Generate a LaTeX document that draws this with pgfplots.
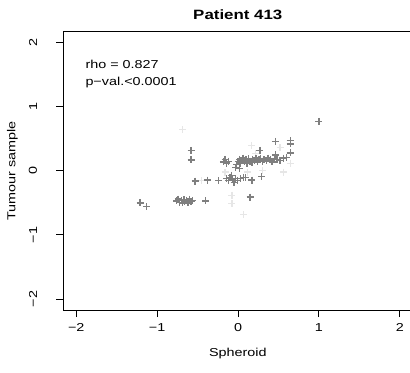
\documentclass[border=0pt]{standalone}
\usepackage{fontspec}
\setmainfont{Liberation Sans}
\usepackage{graphicx}
\usepackage{pgfplots}
\pgfplotsset{compat=1.18}
\newcommand\st[1]{\scalebox{1.25}[1]{#1}}
\definecolor{dk}{HTML}{7F7F7F}
\definecolor{lt}{HTML}{E6E6E6}
\begin{document}
\begin{tikzpicture}
\useasboundingbox (-63.3bp,-63bp) rectangle (346.7bp,310bp);
\begin{axis}[
  at={(0,0)}, anchor=south west,
  width=349.5bp, height=278.3bp, scale only axis,
  xmin=-2.16, xmax=2.16, ymin=-2.17, ymax=2.17,
  xtick={-2,-1,0,1,2}, ytick={-2,-1,0,1,2},
  xticklabels={\st{−2},\st{−1},\st{0},\st{1},\st{2}},
  yticklabels={\st{−2},\st{−1},\st{0},\st{1},\st{2}},
  xtick pos=bottom, ytick pos=left, xtick align=outside, ytick align=outside,
  major tick length=7bp,
  axis line style={line width=0.9bp},
  every tick/.style={draw=black, line width=1bp},
  xticklabel style={font=\fontsize{11.5bp}{13bp}\selectfont, inner sep=0pt, anchor=north, yshift=-6.5bp},
  yticklabel style={font=\fontsize{11.5bp}{13bp}\selectfont, inner sep=0pt, xshift=-19bp, rotate=90, anchor=south},
  clip=false,
]
\addplot[only marks, mark=+, mark size=3.5bp, color=lt, line width=1.3bp] coordinates {
(-0.685,0.64) (-0.075,-0.38) (-0.075,-0.51) (0.07,-0.68) (0.56,-0.02) (0.645,0.12)
(0.17,0.39) (0.52,0.36) (-0.16,-0.02) (0.30,0.00) (-0.45,-0.15) (0.22,0.27) (0.12,-0.02)
};
\addplot[only marks, mark=+, mark size=3.5bp, color=dk, line width=1.4bp] coordinates {
(-1.21,-0.50) (-1.13,-0.56)
(-0.76,-0.47) (-0.74,-0.44) (-0.72,-0.49) (-0.70,-0.46) (-0.69,-0.50) (-0.67,-0.45)
(-0.66,-0.48) (-0.64,-0.46) (-0.62,-0.50) (-0.60,-0.44) (-0.58,-0.48) (-0.56,-0.46)
(-0.40,-0.47)
(-0.58,0.32) (-0.58,0.17)
(-0.53,-0.16) (-0.38,-0.145) (-0.24,-0.155)
(-0.14,-0.12) (-0.12,-0.15) (-0.10,-0.10) (-0.08,-0.07) (-0.07,-0.13) (-0.05,-0.18)
(-0.03,-0.12) (-0.01,-0.15) (0.03,-0.12) (0.07,-0.10) (0.09,-0.10) (0.17,-0.145) (0.29,-0.09)
(0.15,-0.41)
(-0.18,0.14) (-0.16,0.18) (-0.14,0.12) (-0.12,0.15)
(-0.03,0.05) (0.02,0.04)
(-0.02,0.10) (0.00,0.15) (0.02,0.18) (0.03,0.12) (0.05,0.16) (0.06,0.20) (0.08,0.14)
(0.10,0.17) (0.11,0.12) (0.13,0.19) (0.15,0.15) (0.17,0.13) (0.18,0.18) (0.20,0.16)
(0.22,0.20) (0.24,0.14) (0.26,0.17) (0.28,0.19) (0.30,0.15) (0.32,0.18) (0.35,0.16)
(0.37,0.20) (0.40,0.17) (0.42,0.14) (0.45,0.19) (0.48,0.18) (0.52,0.16) (0.56,0.20) (0.60,0.21)
(0.27,0.32) (0.46,0.46) (0.46,0.25) (0.645,0.47) (0.645,0.42) (0.645,0.28) (1.0,0.77)
};
\pgfplotsinvokeforeach{-2,-1,0,1,2}{
  \draw[line width=1bp, black] (axis cs:#1,-2.17) -- ([yshift=-7bp]axis cs:#1,-2.17);
  \draw[line width=1bp, black] (axis cs:-2.16,#1) -- ([xshift=-7bp]axis cs:-2.16,#1);
}
\end{axis}
\node[anchor=base west, inner sep=0pt, font=\fontsize{11.5bp}{13bp}\selectfont] at (22bp,241bp) {\st{rho = 0.827}};
\node[anchor=base west, inner sep=0pt, font=\fontsize{11.5bp}{13bp}\selectfont] at (22bp,224bp) {\st{p−val.<0.0001}};
\node[anchor=center, inner sep=0pt, font=\fontsize{13.5bp}{15bp}\selectfont\bfseries] at (174.5bp,295bp) {\st{Patient 413}};
\node[anchor=center, inner sep=0pt, font=\fontsize{11.5bp}{13bp}\selectfont] at (174.5bp,-44bp) {\st{Spheroid}};
\node[anchor=center, inner sep=0pt, rotate=90, font=\fontsize{11.5bp}{13bp}\selectfont] at (-51bp,139bp) {\st{Tumour sample}};
\end{tikzpicture}
\end{document}
